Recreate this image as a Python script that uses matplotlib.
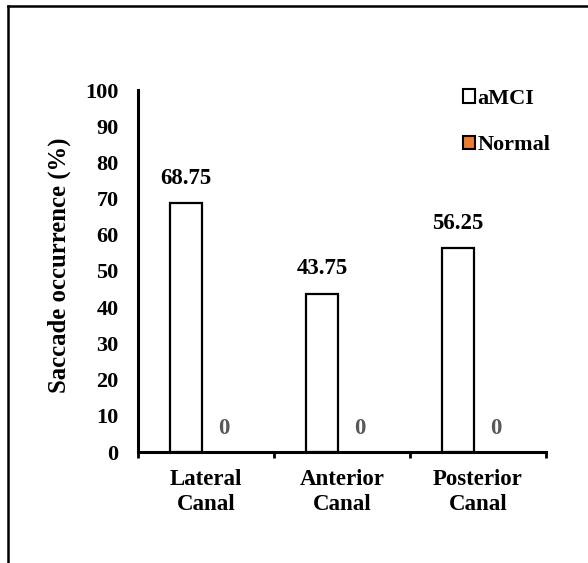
import matplotlib
matplotlib.use("Agg")
import matplotlib.pyplot as plt
from matplotlib.patches import Patch
from matplotlib.lines import Line2D
import numpy as np

categories = ["Lateral\nCanal", "Anterior\nCanal", "Posterior\nCanal"]
amci = [68.75, 43.75, 56.25]
normal = [0, 0, 0]
amci_labels = ["68.75", "43.75", "56.25"]
normal_labels = ["0", "0", "0"]
yticks = [0, 10, 20, 30, 40, 50, 60, 70, 80, 90, 100]

plt.rcParams['font.family'] = ['Liberation Serif', 'DejaVu Serif']
plt.rcParams['font.weight'] = 'bold'

W, H = 588, 563
fig = plt.figure(figsize=(W/100, H/100), dpi=100)
ax = fig.add_axes([138/W, 1-452/H, (546-138)/W, (452-90)/H])

x = np.arange(len(categories))
off = 0.147
bw = 0.235
ax.bar(x-off, amci, bw, color='white', edgecolor='black', linewidth=1.6, label='aMCI', zorder=3)
ax.bar(x+off, normal, bw, color='#ED7D31', edgecolor='black', linewidth=0, label='Normal', zorder=3)

for xi, v, t in zip(x-off, amci, amci_labels):
    ax.annotate(t, (xi, v), xytext=(0, 25), textcoords='offset pixels', ha='center', va='center',
                fontsize=16.5, fontweight='bold', color='black')
for xi, v, t in zip(x+off, normal, normal_labels):
    ax.annotate(t, (xi, v), xytext=(-2, 23), textcoords='offset pixels', ha='center', va='center',
                fontsize=16.5, fontweight='bold', color='#595959')

ax.set_xlim(-0.5, 2.5)
ax.set_ylim(0, 100)
ax.set_yticks(yticks)
ax.set_yticklabels([str(v) for v in yticks], fontsize=16, fontweight='bold')
ax.set_xticks(x)
ax.set_xticklabels(categories, fontsize=16.5, fontweight='bold', linespacing=1.25)
ax.set_xticks([-0.5, 0.5, 1.5, 2.5], minor=True)
ax.tick_params(axis='x', which='major', length=0, pad=12)
ax.tick_params(axis='x', which='minor', length=4, width=2, direction='out')
ax.tick_params(axis='y', which='major', length=0, pad=14)
for s in ['top', 'right']:
    ax.spines[s].set_visible(False)
for s in ['left', 'bottom']:
    ax.spines[s].set_linewidth(2.2)
    ax.spines[s].set_zorder(4)

fig.text(59/W, 1-265/H, "Saccade occurrence (%)", rotation=90, ha='center', va='center',
         fontsize=17.8, fontweight='bold')

handles = [Patch(facecolor='white', edgecolor='black', linewidth=1.5),
           Patch(facecolor='#ED7D31', edgecolor='black', linewidth=1.5)]
leg = fig.legend(handles, ['aMCI', 'Normal'], loc='upper left', bbox_to_anchor=(443/W, 1-69/H),
                 frameon=False, handlelength=0.55, handleheight=0.55, handletextpad=0.1,
                 labelspacing=1.18, prop={'family': 'Liberation Serif', 'weight': 'bold', 'size': 16})

# outer frame (left and top edges visible)
fig.add_artist(Line2D([8/W, 8/W], [0, 1-6/H], transform=fig.transFigure, color='black', linewidth=1.8))
fig.add_artist(Line2D([8/W, 1], [1-6/H, 1-6/H], transform=fig.transFigure, color='black', linewidth=1.8))

fig.savefig("out.png", dpi=100, facecolor='white')
